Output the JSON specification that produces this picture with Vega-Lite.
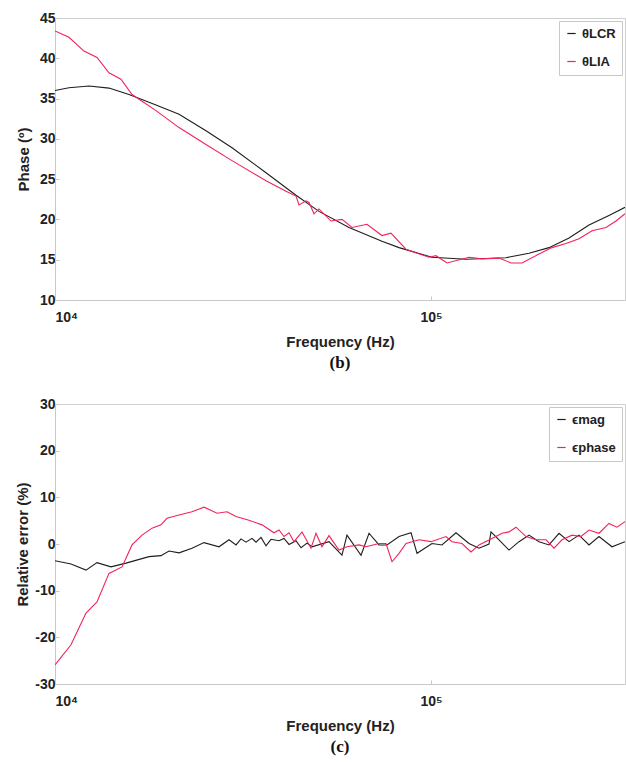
{
  "$schema": "https://vega.github.io/schema/vega-lite/v6.json",
  "padding": {"left": 15, "top": 10, "right": 0, "bottom": 0},
  "background": "white",
  "config": {
    "view": {"stroke": "#cfcfcf", "strokeWidth": 1},
    "axis": {
      "labelFont": "Liberation Sans", "labelFontWeight": "bold", "labelFontSize": 14, "labelColor": "#222",
      "titleFont": "Liberation Sans", "titleFontWeight": "bold", "titleFontSize": 15, "titleColor": "#222",
      "domainColor": "#c8c8c8", "tickColor": "#c8c8c8", "tickSize": -4, "grid": false
    },
    "legend": {
      "labelFont": "Liberation Sans", "labelFontWeight": "bold", "labelFontSize": 13, "labelColor": "#222",
      "symbolType": "stroke", "symbolStrokeWidth": 1.2, "symbolSize": 70,
      "fillColor": "white", "strokeColor": "#c8c8c8", "padding": 6, "rowPadding": 14,
      "orient": "top-right", "offset": 3, "title": null
    },
    "title": {"font": "Liberation Serif", "fontSize": 17, "fontWeight": "bold", "color": "#111"}
  },
  "spacing": 24,
  "resolve": {"scale": {"color": "independent"}, "legend": {"color": "independent"}},
  "vconcat": [
    {
      "width": 570, "height": 282,
      "title": {"text": "(b)", "orient": "bottom", "anchor": "middle", "offset": 6},
      "data": {"values": [
        {"f": 10000, "v": 36.0, "s": "θLCR"},
        {"f": 10894, "v": 36.35, "s": "θLCR"},
        {"f": 12314, "v": 36.56, "s": "θLCR"},
        {"f": 13918, "v": 36.3, "s": "θLCR"},
        {"f": 15733, "v": 35.5, "s": "θLCR"},
        {"f": 18564, "v": 34.2, "s": "θLCR"},
        {"f": 21375, "v": 33.05, "s": "θLCR"},
        {"f": 25210, "v": 31.0, "s": "θLCR"},
        {"f": 29566, "v": 28.9, "s": "θLCR"},
        {"f": 36407, "v": 25.8, "s": "θLCR"},
        {"f": 43753, "v": 23.0, "s": "θLCR"},
        {"f": 50363, "v": 21.0, "s": "θLCR"},
        {"f": 60525, "v": 19.0, "s": "θLCR"},
        {"f": 74060, "v": 17.3, "s": "θLCR"},
        {"f": 82219, "v": 16.5, "s": "θLCR"},
        {"f": 100614, "v": 15.3, "s": "θLCR"},
        {"f": 123900, "v": 15.05, "s": "θLCR"},
        {"f": 158300, "v": 15.25, "s": "θLCR"},
        {"f": 182260, "v": 15.8, "s": "θLCR"},
        {"f": 206010, "v": 16.5, "s": "θLCR"},
        {"f": 232860, "v": 17.7, "s": "θLCR"},
        {"f": 263180, "v": 19.3, "s": "θLCR"},
        {"f": 297420, "v": 20.5, "s": "θLCR"},
        {"f": 328080, "v": 21.5, "s": "θLCR"},
        {"f": 10000, "v": 43.4, "s": "θLIA"},
        {"f": 10894, "v": 42.6, "s": "θLIA"},
        {"f": 11941, "v": 40.9, "s": "θLIA"},
        {"f": 12933, "v": 40.1, "s": "θLIA"},
        {"f": 13918, "v": 38.2, "s": "θLIA"},
        {"f": 14978, "v": 37.4, "s": "θLIA"},
        {"f": 16027, "v": 35.5, "s": "θLIA"},
        {"f": 18564, "v": 33.5, "s": "θLIA"},
        {"f": 21375, "v": 31.4, "s": "θLIA"},
        {"f": 25210, "v": 29.3, "s": "θLIA"},
        {"f": 29566, "v": 27.3, "s": "θLIA"},
        {"f": 36407, "v": 24.8, "s": "θLIA"},
        {"f": 41158, "v": 23.5, "s": "θLIA"},
        {"f": 43753, "v": 22.9, "s": "θLIA"},
        {"f": 44563, "v": 21.8, "s": "θLIA"},
        {"f": 46513, "v": 22.3, "s": "θLIA"},
        {"f": 47377, "v": 22.1, "s": "θLIA"},
        {"f": 48851, "v": 20.7, "s": "θLIA"},
        {"f": 50363, "v": 21.3, "s": "θLIA"},
        {"f": 54200, "v": 19.8, "s": "θLIA"},
        {"f": 57991, "v": 20.0, "s": "θLIA"},
        {"f": 61646, "v": 19.0, "s": "θLIA"},
        {"f": 67559, "v": 19.4, "s": "θLIA"},
        {"f": 74060, "v": 18.0, "s": "θLIA"},
        {"f": 78250, "v": 18.3, "s": "θLIA"},
        {"f": 85798, "v": 16.3, "s": "θLIA"},
        {"f": 98790, "v": 15.3, "s": "θLIA"},
        {"f": 103110, "v": 15.5, "s": "θLIA"},
        {"f": 110300, "v": 14.6, "s": "θLIA"},
        {"f": 126190, "v": 15.3, "s": "θLIA"},
        {"f": 136600, "v": 15.1, "s": "θLIA"},
        {"f": 151660, "v": 15.2, "s": "θLIA"},
        {"f": 163300, "v": 14.6, "s": "θLIA"},
        {"f": 174600, "v": 14.6, "s": "θLIA"},
        {"f": 193770, "v": 15.7, "s": "θLIA"},
        {"f": 209800, "v": 16.5, "s": "θLIA"},
        {"f": 228600, "v": 17.0, "s": "θLIA"},
        {"f": 247530, "v": 17.6, "s": "θLIA"},
        {"f": 268100, "v": 18.6, "s": "θLIA"},
        {"f": 292100, "v": 19.0, "s": "θLIA"},
        {"f": 310500, "v": 19.8, "s": "θLIA"},
        {"f": 328080, "v": 20.7, "s": "θLIA"}
      ]},
      "mark": {"type": "line", "strokeWidth": 1.1, "clip": true},
      "encoding": {
        "x": {"field": "f", "type": "quantitative", "title": "Frequency (Hz)",
          "scale": {"type": "log", "domain": [10000, 328080]},
          "axis": {"values": [10000, 100000], "labelExpr": "datum.value == 10000 ? '10⁴' : '10⁵'", "labelPadding": 14, "titlePadding": 10}},
        "y": {"field": "v", "type": "quantitative", "title": "Phase (º)",
          "scale": {"domain": [10, 45]},
          "axis": {"values": [10, 15, 20, 25, 30, 35, 40, 45], "labelPadding": 4, "titlePadding": 8}},
        "color": {"field": "s", "type": "nominal",
          "scale": {"domain": ["θLCR", "θLIA"], "range": ["#1e1e1e", "#f2235a"]}}
      }
    },
    {
      "width": 570, "height": 280,
      "title": {"text": "(c)", "orient": "bottom", "anchor": "middle", "offset": 6},
      "data": {"values": [
        {"f": 10000, "v": -3.6, "s": "ϵmag"},
        {"f": 11030, "v": -4.3, "s": "ϵmag"},
        {"f": 12090, "v": -5.6, "s": "ϵmag"},
        {"f": 12933, "v": -4.0, "s": "ϵmag"},
        {"f": 14090, "v": -4.9, "s": "ϵmag"},
        {"f": 15449, "v": -4.1, "s": "ϵmag"},
        {"f": 17783, "v": -2.7, "s": "ϵmag"},
        {"f": 19138, "v": -2.5, "s": "ϵmag"},
        {"f": 20098, "v": -1.5, "s": "ϵmag"},
        {"f": 21375, "v": -1.9, "s": "ϵmag"},
        {"f": 23141, "v": -0.9, "s": "ϵmag"},
        {"f": 24910, "v": 0.3, "s": "ϵmag"},
        {"f": 27300, "v": -0.6, "s": "ϵmag"},
        {"f": 29027, "v": 0.9, "s": "ϵmag"},
        {"f": 30299, "v": -0.2, "s": "ϵmag"},
        {"f": 31240, "v": 1.1, "s": "ϵmag"},
        {"f": 32211, "v": 0.4, "s": "ϵmag"},
        {"f": 33417, "v": 1.2, "s": "ϵmag"},
        {"f": 34245, "v": 0.4, "s": "ϵmag"},
        {"f": 35310, "v": 1.4, "s": "ϵmag"},
        {"f": 36407, "v": -0.4, "s": "ϵmag"},
        {"f": 37540, "v": 1.0, "s": "ϵmag"},
        {"f": 39425, "v": 0.7, "s": "ϵmag"},
        {"f": 40652, "v": 1.2, "s": "ϵmag"},
        {"f": 41916, "v": -0.1, "s": "ϵmag"},
        {"f": 43753, "v": 0.7, "s": "ϵmag"},
        {"f": 45112, "v": -0.8, "s": "ϵmag"},
        {"f": 46798, "v": 0.2, "s": "ϵmag"},
        {"f": 48252, "v": -0.6, "s": "ϵmag"},
        {"f": 53545, "v": 0.5, "s": "ϵmag"},
        {"f": 57975, "v": -2.4, "s": "ϵmag"},
        {"f": 59778, "v": 1.9, "s": "ϵmag"},
        {"f": 65151, "v": -2.4, "s": "ϵmag"},
        {"f": 68422, "v": 2.3, "s": "ϵmag"},
        {"f": 72737, "v": -0.2, "s": "ϵmag"},
        {"f": 76390, "v": -0.2, "s": "ϵmag"},
        {"f": 82219, "v": 1.6, "s": "ϵmag"},
        {"f": 88494, "v": 2.4, "s": "ϵmag"},
        {"f": 91805, "v": -2.0, "s": "ϵmag"},
        {"f": 100614, "v": 0.1, "s": "ϵmag"},
        {"f": 106970, "v": -0.2, "s": "ϵmag"},
        {"f": 116540, "v": 2.4, "s": "ϵmag"},
        {"f": 126190, "v": 0.1, "s": "ϵmag"},
        {"f": 134170, "v": -0.9, "s": "ϵmag"},
        {"f": 142650, "v": 0.0, "s": "ϵmag"},
        {"f": 144400, "v": 2.6, "s": "ϵmag"},
        {"f": 151660, "v": 0.9, "s": "ϵmag"},
        {"f": 161240, "v": -1.3, "s": "ϵmag"},
        {"f": 171430, "v": 0.5, "s": "ϵmag"},
        {"f": 182260, "v": 1.9, "s": "ϵmag"},
        {"f": 193770, "v": 0.5, "s": "ϵmag"},
        {"f": 206010, "v": -0.2, "s": "ϵmag"},
        {"f": 219030, "v": 2.3, "s": "ϵmag"},
        {"f": 232860, "v": 0.5, "s": "ϵmag"},
        {"f": 247530, "v": 1.9, "s": "ϵmag"},
        {"f": 263180, "v": -0.2, "s": "ϵmag"},
        {"f": 279780, "v": 1.6, "s": "ϵmag"},
        {"f": 302930, "v": -0.6, "s": "ϵmag"},
        {"f": 328080, "v": 0.5, "s": "ϵmag"},
        {"f": 10000, "v": -25.9, "s": "ϵphase"},
        {"f": 11030, "v": -21.6, "s": "ϵphase"},
        {"f": 12090, "v": -14.8, "s": "ϵphase"},
        {"f": 12933, "v": -12.4, "s": "ϵphase"},
        {"f": 13918, "v": -6.3, "s": "ϵphase"},
        {"f": 15075, "v": -4.9, "s": "ϵphase"},
        {"f": 16027, "v": -0.2, "s": "ϵphase"},
        {"f": 17037, "v": 1.9, "s": "ϵphase"},
        {"f": 18113, "v": 3.4, "s": "ϵphase"},
        {"f": 19138, "v": 4.1, "s": "ϵphase"},
        {"f": 19854, "v": 5.5, "s": "ϵphase"},
        {"f": 21375, "v": 6.2, "s": "ϵphase"},
        {"f": 23141, "v": 6.9, "s": "ϵphase"},
        {"f": 24910, "v": 7.9, "s": "ϵphase"},
        {"f": 26968, "v": 6.6, "s": "ϵphase"},
        {"f": 28674, "v": 6.9, "s": "ϵphase"},
        {"f": 30299, "v": 5.9, "s": "ϵphase"},
        {"f": 32808, "v": 5.1, "s": "ϵphase"},
        {"f": 35527, "v": 4.1, "s": "ϵphase"},
        {"f": 38236, "v": 2.4, "s": "ϵphase"},
        {"f": 39425, "v": 3.0, "s": "ϵphase"},
        {"f": 40652, "v": 1.6, "s": "ϵphase"},
        {"f": 41916, "v": 2.4, "s": "ϵphase"},
        {"f": 43221, "v": 0.5, "s": "ϵphase"},
        {"f": 45388, "v": 2.6, "s": "ϵphase"},
        {"f": 47958, "v": -0.9, "s": "ϵphase"},
        {"f": 49447, "v": 2.3, "s": "ϵphase"},
        {"f": 51296, "v": -0.6, "s": "ϵphase"},
        {"f": 53545, "v": 1.8, "s": "ϵphase"},
        {"f": 56920, "v": -1.3, "s": "ϵphase"},
        {"f": 59778, "v": -0.6, "s": "ϵphase"},
        {"f": 64358, "v": -0.2, "s": "ϵphase"},
        {"f": 67176, "v": -0.6, "s": "ϵphase"},
        {"f": 72737, "v": 0.1, "s": "ϵphase"},
        {"f": 75923, "v": 0.1, "s": "ϵphase"},
        {"f": 78768, "v": -3.8, "s": "ϵphase"},
        {"f": 82219, "v": -2.0, "s": "ϵphase"},
        {"f": 85822, "v": 0.1, "s": "ϵphase"},
        {"f": 92936, "v": 0.9, "s": "ϵphase"},
        {"f": 100000, "v": 0.5, "s": "ϵphase"},
        {"f": 109610, "v": 1.6, "s": "ϵphase"},
        {"f": 113720, "v": 0.5, "s": "ϵphase"},
        {"f": 120900, "v": 0.1, "s": "ϵphase"},
        {"f": 127750, "v": -1.7, "s": "ϵphase"},
        {"f": 134170, "v": -0.2, "s": "ϵphase"},
        {"f": 145290, "v": 1.2, "s": "ϵphase"},
        {"f": 154470, "v": 2.3, "s": "ϵphase"},
        {"f": 161240, "v": 2.6, "s": "ϵphase"},
        {"f": 168310, "v": 3.6, "s": "ϵphase"},
        {"f": 178940, "v": 1.6, "s": "ϵphase"},
        {"f": 190240, "v": 0.9, "s": "ϵphase"},
        {"f": 202260, "v": 0.9, "s": "ϵphase"},
        {"f": 212410, "v": -0.9, "s": "ϵphase"},
        {"f": 223090, "v": 0.9, "s": "ϵphase"},
        {"f": 237140, "v": 1.9, "s": "ϵphase"},
        {"f": 250580, "v": 1.6, "s": "ϵphase"},
        {"f": 263180, "v": 3.0, "s": "ϵphase"},
        {"f": 279780, "v": 2.3, "s": "ϵphase"},
        {"f": 297420, "v": 4.4, "s": "ϵphase"},
        {"f": 312350, "v": 3.6, "s": "ϵphase"},
        {"f": 328080, "v": 4.8, "s": "ϵphase"}
      ]},
      "mark": {"type": "line", "strokeWidth": 1.1, "clip": true},
      "encoding": {
        "x": {"field": "f", "type": "quantitative", "title": "Frequency (Hz)",
          "scale": {"type": "log", "domain": [10000, 328080]},
          "axis": {"values": [10000, 100000], "labelExpr": "datum.value == 10000 ? '10⁴' : '10⁵'", "labelPadding": 14, "titlePadding": 10}},
        "y": {"field": "v", "type": "quantitative", "title": "Relative error (%)",
          "scale": {"domain": [-30, 30]},
          "axis": {"values": [-30, -20, -10, 0, 10, 20, 30], "labelExpr": "toString(datum.value)", "labelPadding": 4, "titlePadding": 4}},
        "color": {"field": "s", "type": "nominal",
          "scale": {"domain": ["ϵmag", "ϵphase"], "range": ["#1e1e1e", "#f2235a"]}}
      }
    }
  ]
}
